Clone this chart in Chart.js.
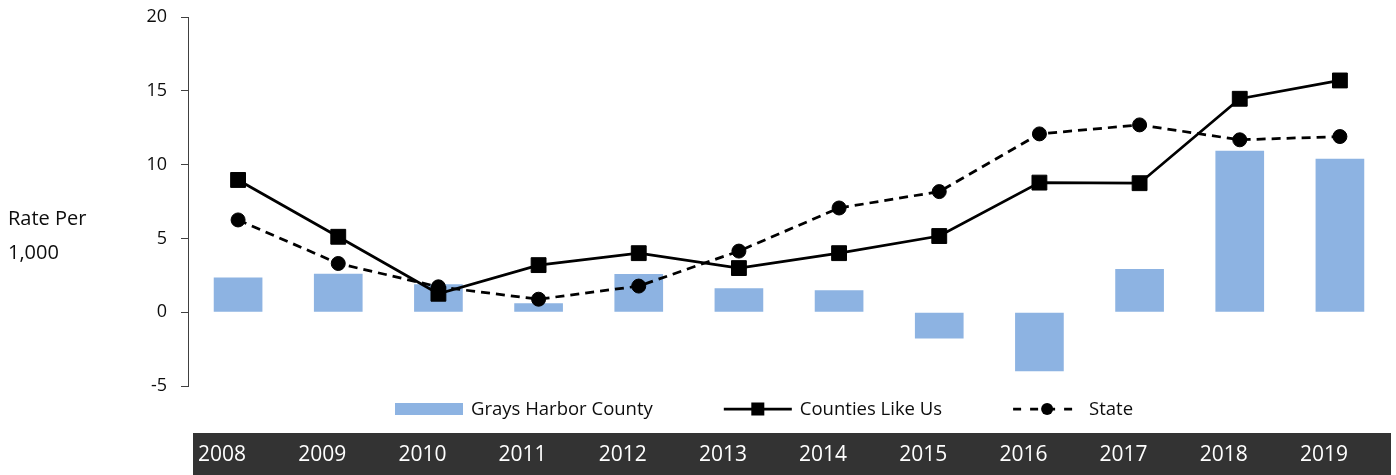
<!DOCTYPE html>
<html>
<head>
<meta charset="utf-8">
<script src="https://cdn.jsdelivr.net/npm/chart.js@4/dist/chart.umd.min.js"></script>
<style>
  html, body { margin: 0; padding: 0; background: #fff; }
  #wrap { width: 1396px; height: 475px; position: relative; }
</style>
</head>
<body>
<div id="wrap"><canvas id="chart"></canvas></div>
<script>
const years = ['2008', '2009', '2010', '2011', '2012', '2013', '2014', '2015', '2016', '2017', '2018', '2019']
const graysHarbor = [2.35, 2.6, 1.9, 0.61, 2.58, 1.63, 1.49, -1.79, -4.0, 2.92, 10.93, 10.39]
const countiesLikeUs = [8.96, 5.11, 1.25, 3.19, 4.0, 2.99, 4.0, 5.16, 8.78, 8.74, 14.46, 15.7]
const state = [6.25, 3.3, 1.72, 0.88, 1.77, 4.14, 7.06, 8.17, 12.08, 12.69, 11.68, 11.9]
const yTicks = [-5, 0, 5, 10, 15, 20]

const FONT = '"Open Sans", "DejaVu Sans", sans-serif'
const barBlue = '#8db3e2'

// dark band behind the year labels + "Rate Per 1,000" text + legend
const decorations = {
  id: 'decorations',
  beforeDraw(chart) {
    const { ctx, chartArea } = chart
    ctx.save()
    ctx.fillStyle = '#333333'
    ctx.fillRect(chartArea.left + 5, 433, chartArea.right - chartArea.left - 4, chart.height - 433)
    ctx.restore()
  },
  afterDraw(chart) {
    const { ctx } = chart
    ctx.save()
    ctx.fillStyle = '#0d0d0d'
    ctx.font = '20px ' + FONT
    ctx.textBaseline = 'alphabetic'
    ctx.textAlign = 'left'
    ctx.fillText('Rate Per', 8, 225)
    ctx.fillText('1,000', 8, 259)

    // legend
    const cy = 409
    const symW = 68
    ctx.font = '18.5px ' + FONT
    ctx.textBaseline = 'middle'
    let x = 395
    chart.data.datasets.forEach(ds => {
      if (ds.type === 'line') {
        ctx.strokeStyle = ds.borderColor
        ctx.lineWidth = ds.borderWidth
        ctx.setLineDash(ds.borderDash ? [8, 9] : [])
        ctx.beginPath()
        ctx.moveTo(x, cy)
        ctx.lineTo(x + symW, cy)
        ctx.stroke()
        ctx.setLineDash([])
        ctx.fillStyle = ds.pointBackgroundColor
        const mx = x + symW / 2
        if (ds.pointStyle === 'rect') {
          ctx.fillRect(mx - 6.5, cy - 6.5, 13, 13)
        } else {
          ctx.beginPath()
          ctx.arc(mx, cy, 6, 0, Math.PI * 2)
          ctx.fill()
        }
      } else {
        ctx.fillStyle = ds.backgroundColor
        ctx.fillRect(x, cy - 6, symW, 12)
      }
      ctx.fillStyle = '#0d0d0d'
      ctx.fillText(ds.label, x + symW + 8, cy + 1)
      x += symW + 8 + ctx.measureText(ds.label).width + 71
    })
    ctx.restore()
  }
}

new Chart(document.getElementById('chart'), {
  type: 'bar',
  data: {
    labels: years,
    datasets: [
      {
        label: 'Grays Harbor County',
        data: graysHarbor,
        backgroundColor: barBlue,
        borderWidth: 0,
        categoryPercentage: 1,
        barPercentage: 0.486,
        order: 2
      },
      {
        type: 'line',
        label: 'Counties Like Us',
        data: countiesLikeUs,
        borderColor: '#000',
        borderWidth: 2.75,
        pointStyle: 'rect',
        pointRadius: 10.5,
        pointBackgroundColor: '#000',
        pointBorderColor: '#000',
        pointBorderWidth: 1,
        tension: 0,
        order: 1
      },
      {
        type: 'line',
        label: 'State',
        data: state,
        borderColor: '#000',
        borderWidth: 2.75,
        borderDash: [9, 6],
        pointStyle: 'circle',
        pointRadius: 7,
        pointBackgroundColor: '#000',
        pointBorderColor: '#000',
        pointBorderWidth: 1,
        tension: 0,
        order: 0
      }
    ]
  },
  options: {
    responsive: true,
    maintainAspectRatio: false,
    animation: false,
    layout: {
      autoPadding: false,
      padding: { left: 0, right: 6, top: 17, bottom: 8 }
    },
    plugins: {
      legend: { display: false },
      tooltip: { enabled: false }
    },
    scales: {
      x: {
        grid: { display: false, drawTicks: false },
        border: { display: false },
        afterFit(scale) {
          scale.height = 81
          scale.paddingLeft = 0
          scale.paddingRight = 0
        },
        ticks: {
          color: '#ffffff',
          padding: 56,
          labelOffset: -16,
          maxRotation: 0,
          autoSkip: false,
          font: { family: FONT, size: 21 }
        }
      },
      y: {
        min: -5,
        max: 20,
        afterBuildTicks(scale) {
          scale.ticks = yTicks.map(v => ({ value: v }))
        },
        afterFit(scale) {
          scale.width = 188
          scale.paddingTop = 0
          scale.paddingBottom = 0
        },
        grid: {
          drawOnChartArea: false,
          drawTicks: true,
          tickLength: 7,
          color: '#404040'
        },
        border: { display: true, color: '#404040', width: 1 },
        ticks: {
          color: '#0d0d0d',
          padding: 14,
          font: { family: FONT, size: 18 }
        }
      }
    }
  },
  plugins: [decorations]
})
</script>
</body>
</html>
